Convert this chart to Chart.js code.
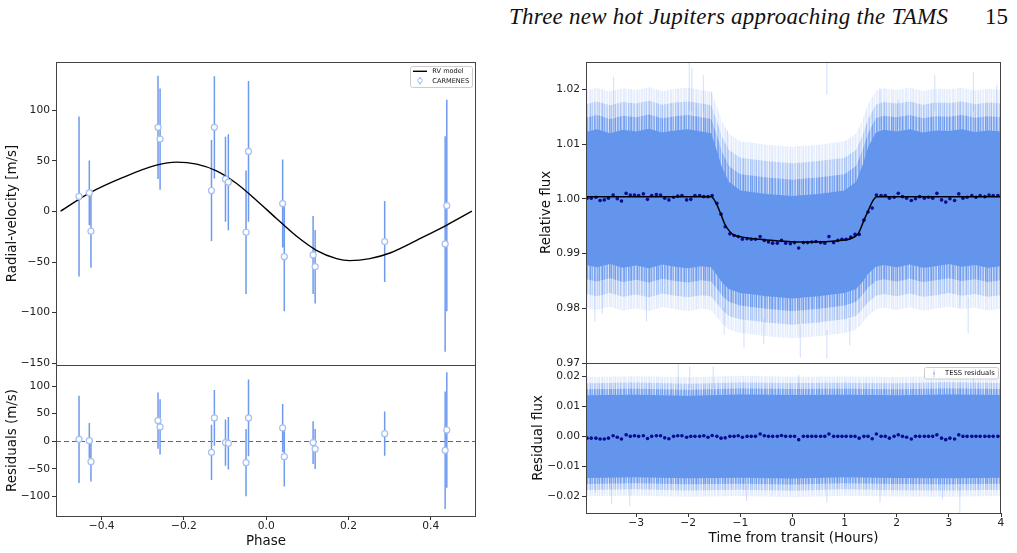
<!DOCTYPE html>
<html>
<head>
<meta charset="utf-8">
<script src="https://cdn.jsdelivr.net/npm/chart.js@4.4.1/dist/chart.umd.min.js"></script>
<style>
html,body{margin:0;padding:0;background:#fff;width:1017px;height:553px;overflow:hidden;}
canvas{position:absolute;left:0;top:0;}
.hdr{position:absolute;top:5px;font-family:"Liberation Serif","DejaVu Serif",serif;font-size:23px;line-height:23px;color:#111;white-space:nowrap;}
#title{left:509px;font-style:italic;letter-spacing:0.25px;}
#page{left:985px;}
</style>
</head>
<body>
<div class="hdr" id="title">Three new hot Jupiters approaching the TAMS</div>
<div class="hdr" id="page">15</div>
<canvas id="rvTop" width="1017" height="553"></canvas>
<canvas id="rvRes" width="1017" height="553"></canvas>
<canvas id="lcTop" width="1017" height="553"></canvas>
<canvas id="lcRes" width="1017" height="553"></canvas>
<script>
// ================= DATA =================
// --- CARMENES radial velocities (phase-folded) ---
const rvPhase    = [-0.455,-0.430,-0.426,-0.263,-0.258,-0.133,-0.126,-0.099,-0.092,-0.049,-0.043,0.040,0.044,0.114,0.119,0.288,0.435,0.439];
const rvValue    = [14.9,18.5,-19.5,83.2,71.6,20.8,83.2,32.0,29.0,-20.5,59.4,7.9,-44.6,-42.9,-54.5,-29.7,-32.0,5.9];
const rvError    = [79,32,36,51,50,50,50.5,42,47.5,61,69.5,43.5,54,38.6,36.3,40,106.5,104.5];
const rvResidual = [3.6,1.2,-36.9,37.5,26.0,-20.0,42.3,-2.4,-3.6,-38.7,42.3,24.2,-27.8,-2.4,-13.9,13.9,-16.3,20.5];
// --- RV model curve ---
const modelPhase = [-0.500,-0.429,-0.348,-0.267,-0.218,-0.169,-0.121,-0.072,-0.024,0.025,0.074,0.122,0.171,0.203,0.252,0.301,0.382,0.438,0.500];
const modelRV    = [0.3,18.4,33.7,45.8,48.8,46.8,40.2,27.7,11.2,-6.9,-24.5,-38.3,-46.5,-48.5,-46.5,-41.0,-25.1,-13.6,0.3];
// --- RV tick labels ---
const rvTicksTop = [-150,-100,-50,0,50,100];
const rvTicksRes = [-100,-50,0,50,100];
const phaseTicks = [-0.4,-0.2,0.0,0.2,0.4];

// --- TESS binned light curve (5-min bins) ---
const binTime = [-3.94,-3.86,-3.77,-3.69,-3.61,-3.53,-3.44,-3.36,-3.28,-3.19,-3.11,-3.03,-2.95,-2.86,-2.78,-2.70,-2.61,-2.53,-2.45,-2.37,-2.28,-2.20,-2.12,-2.03,-1.95,-1.87,-1.78,-1.70,-1.62,-1.54,-1.45,-1.37,-1.29,-1.20,-1.12,-1.04,-0.96,-0.87,-0.79,-0.71,-0.62,-0.54,-0.46,-0.38,-0.29,-0.21,-0.13,-0.04,0.04,0.12,0.21,0.29,0.37,0.45,0.54,0.62,0.70,0.79,0.87,0.95,1.03,1.12,1.20,1.28,1.37,1.45,1.53,1.61,1.70,1.78,1.86,1.95,2.03,2.11,2.19,2.28,2.36,2.44,2.53,2.61,2.69,2.77,2.86,2.94,3.02,3.11,3.19,3.27,3.35,3.44,3.52,3.60,3.69,3.77,3.85,3.94,4.01];
const binFlux = [1.0001,1.0001,1.0003,0.9997,0.9998,1.0001,1.0007,1.0000,0.9996,1.0010,1.0007,1.0007,1.0006,1.0009,0.9999,1.0006,1.0008,1.0007,1.0001,0.9998,1.0003,1.0005,1.0006,0.9998,0.9999,1.0006,1.0006,1.0004,1.0004,1.0006,0.9992,0.9972,0.9949,0.9936,0.9933,0.9931,0.9926,0.9927,0.9926,0.9926,0.9931,0.9924,0.9921,0.9919,0.9919,0.9924,0.9919,0.9918,0.9920,0.9910,0.9920,0.9920,0.9921,0.9922,0.9920,0.9919,0.9931,0.9920,0.9924,0.9926,0.9926,0.9930,0.9935,0.9935,0.9961,0.9976,0.9983,1.0007,1.0006,1.0006,1.0001,1.0003,1.0010,1.0004,1.0001,0.9997,1.0000,1.0004,1.0001,1.0003,1.0001,1.0010,0.9998,0.9994,1.0000,0.9997,1.0009,1.0001,1.0003,1.0006,1.0003,1.0006,1.0004,1.0007,1.0006,1.0006,1.0004];
const binResid = [-0.0006,-0.0006,-0.0006,-0.0009,-0.0009,-0.0006,0.0002,-0.0003,-0.0009,0.0005,0.0000,0.0002,0.0000,0.0002,-0.0007,0.0000,0.0002,0.0002,-0.0005,-0.0008,0.0000,0.0002,0.0002,-0.0003,0.0000,0.0000,0.0000,0.0002,-0.0003,0.0003,0.0000,-0.0006,-0.0005,0.0000,0.0000,0.0002,-0.0003,0.0000,0.0000,0.0000,0.0008,0.0002,0.0000,0.0000,0.0000,0.0003,0.0000,0.0000,0.0000,-0.0011,0.0000,0.0000,0.0000,0.0000,0.0000,0.0000,0.0008,0.0000,0.0000,0.0000,0.0000,0.0000,0.0000,-0.0006,0.0000,0.0000,-0.0008,0.0008,0.0000,0.0000,-0.0006,0.0000,0.0005,0.0000,-0.0003,-0.0009,0.0000,0.0000,0.0000,0.0000,0.0000,0.0005,-0.0006,-0.0011,-0.0006,-0.0009,0.0005,0.0000,0.0000,0.0000,0.0000,0.0000,0.0000,0.0000,0.0000,0.0000,0.0000];
// --- transit model ---
const transitTime = [-3.96,-1.555,-1.465,-1.382,-1.299,-1.209,-1.126,-0.954,-0.634,-0.251,0.069,0.433,0.817,1.137,1.265,1.360,1.456,1.552,1.616,4.0];
const transitFlux = [1.0004,1.0004,0.9992,0.9974,0.9954,0.9941,0.9934,0.9930,0.9926,0.9923,0.9921,0.9921,0.9923,0.9928,0.9937,0.9958,0.9979,0.9998,1.0004,1.0004];
// --- envelope of the unbinned TESS cloud, four density levels ---
const envTime = [-3.96,-3.75,-3.5,-3.25,-3.0,-2.75,-2.5,-2.25,-2.0,-1.75,-1.56,-1.45,-1.35,-1.22,-1.0,-0.75,-0.5,-0.25,0.0,0.25,0.5,0.75,1.0,1.22,1.35,1.45,1.6,1.75,2.0,2.25,2.5,2.75,3.0,3.25,3.5,3.75,4.0];
const l1Hi = [1.0122,1.0127,1.0120,1.0126,1.0123,1.0128,1.0121,1.0125,1.0127,1.0123,1.0120,1.0088,1.0057,1.0031,1.0015,1.0012,1.0009,1.0007,1.0005,1.0007,1.0009,1.0012,1.0015,1.0031,1.0063,1.0094,1.0121,1.0126,1.0123,1.0127,1.0121,1.0125,1.0124,1.0127,1.0122,1.0125,1.0123];
const l1Lo = [0.9879,0.9875,0.9881,0.9874,0.9878,0.9873,0.9880,0.9876,0.9873,0.9877,0.9875,0.9861,0.9847,0.9835,0.9828,0.9825,0.9822,0.9820,0.9818,0.9820,0.9822,0.9825,0.9828,0.9835,0.9849,0.9863,0.9876,0.9879,0.9875,0.9880,0.9874,0.9877,0.9881,0.9876,0.9879,0.9874,0.9877];
const l2Hi = [1.0148,1.0153,1.0146,1.0152,1.0149,1.0154,1.0147,1.0151,1.0153,1.0149,1.0146,1.0116,1.0085,1.0060,1.0045,1.0042,1.0039,1.0037,1.0035,1.0037,1.0039,1.0042,1.0045,1.0060,1.0090,1.0120,1.0147,1.0152,1.0149,1.0153,1.0147,1.0151,1.0150,1.0153,1.0148,1.0151,1.0149];
const l2Lo = [0.9853,0.9849,0.9855,0.9848,0.9852,0.9847,0.9854,0.9850,0.9847,0.9851,0.9849,0.9836,0.9823,0.9812,0.9805,0.9802,0.9799,0.9797,0.9795,0.9797,0.9799,0.9802,0.9805,0.9812,0.9825,0.9838,0.9850,0.9853,0.9849,0.9854,0.9848,0.9851,0.9855,0.9850,0.9853,0.9848,0.9851];
const l3Hi = [1.0173,1.0178,1.0171,1.0177,1.0174,1.0179,1.0172,1.0176,1.0178,1.0174,1.0171,1.0142,1.0113,1.0089,1.0075,1.0072,1.0069,1.0067,1.0065,1.0067,1.0069,1.0072,1.0075,1.0089,1.0117,1.0146,1.0172,1.0177,1.0174,1.0178,1.0172,1.0176,1.0175,1.0178,1.0173,1.0176,1.0174];
const l3Lo = [0.9826,0.9822,0.9828,0.9821,0.9825,0.9820,0.9827,0.9823,0.9820,0.9824,0.9822,0.9809,0.9797,0.9786,0.9780,0.9777,0.9774,0.9772,0.9770,0.9772,0.9774,0.9777,0.9780,0.9786,0.9799,0.9811,0.9823,0.9826,0.9822,0.9827,0.9821,0.9824,0.9828,0.9823,0.9826,0.9821,0.9824];
const l4Hi = [1.0198,1.0203,1.0196,1.0202,1.0199,1.0204,1.0197,1.0201,1.0203,1.0199,1.0196,1.0169,1.0141,1.0119,1.0105,1.0102,1.0099,1.0097,1.0095,1.0097,1.0099,1.0102,1.0105,1.0119,1.0146,1.0173,1.0197,1.0202,1.0199,1.0203,1.0197,1.0201,1.0200,1.0203,1.0198,1.0201,1.0199];
const l4Lo = [0.9801,0.9797,0.9803,0.9796,0.9800,0.9795,0.9802,0.9798,0.9795,0.9799,0.9797,0.9784,0.9772,0.9761,0.9755,0.9752,0.9749,0.9747,0.9745,0.9747,0.9749,0.9752,0.9755,0.9761,0.9774,0.9786,0.9798,0.9801,0.9797,0.9802,0.9796,0.9799,0.9803,0.9798,0.9801,0.9796,0.9799];
// outlying single points (their error bars) in the light-curve panel
const fluxSpikeTime = [-3.79,-3.65,-3.43,-2.80,-1.98,-1.93,-1.71,-1.55,-1.31,-1.25,-0.93,-0.55,0.15,0.66,0.66,1.10,1.68,2.03,2.73,3.21,3.37,3.47,3.92];
const fluxSpikeLo   = [0.9776,0.9790,1.0150,0.9776,1.0160,1.0160,1.0160,1.0130,0.9752,1.0060,0.9728,0.9735,0.9710,1.0190,0.9708,0.9732,1.0140,1.0130,1.0160,0.9801,0.9754,1.0160,1.0150];
const fluxSpikeHi   = [0.9860,0.9850,1.0223,0.9850,1.0251,1.0240,1.0226,1.0196,0.9800,1.0125,0.9780,0.9780,0.9770,1.0248,0.9760,0.9780,1.0202,1.0181,1.0226,0.9860,0.9820,1.0232,1.0208];
// --- residual cloud envelope, four density levels ---
const resEnvTime = [-3.96,-3.0,-2.0,-1.0,0.0,1.0,2.0,3.0,4.0];
const r1Hi = [0.0137,0.0139,0.0136,0.0140,0.0138,0.0139,0.0137,0.0140,0.0138];
const r1Lo = [-0.0139,-0.0137,-0.0140,-0.0138,-0.0141,-0.0137,-0.0139,-0.0140,-0.0138];
const r2Hi = [0.0157,0.0159,0.0156,0.0160,0.0158,0.0159,0.0157,0.0160,0.0158];
const r2Lo = [-0.0159,-0.0157,-0.0160,-0.0158,-0.0161,-0.0157,-0.0159,-0.0160,-0.0158];
const r3Hi = [0.0177,0.0180,0.0176,0.0180,0.0178,0.0179,0.0177,0.0181,0.0178];
const r3Lo = [-0.0179,-0.0177,-0.0181,-0.0178,-0.0182,-0.0177,-0.0180,-0.0181,-0.0178];
const r4Hi = [0.0198,0.0201,0.0197,0.0202,0.0199,0.0200,0.0198,0.0202,0.0199];
const r4Lo = [-0.0200,-0.0198,-0.0202,-0.0199,-0.0203,-0.0198,-0.0201,-0.0202,-0.0199];
const resSpikeTime = [-3.78,-3.47,-3.12,-2.19,-1.97,-1.52,-0.88,0.12,0.66,1.68,2.88,3.21,3.47];
const resSpikeLo   = [-0.0188,-0.0227,-0.0233,0.0160,0.0160,0.0160,-0.0216,0.0150,-0.0222,-0.0222,-0.0210,-0.0256,0.0160];
const resSpikeHi   = [-0.0140,-0.0160,-0.0160,0.0244,0.0233,0.0233,-0.0160,0.0205,-0.0160,-0.0160,-0.0150,-0.0170,0.0222];
// --- light-curve tick labels ---
const fluxTicks  = [0.97,0.98,0.99,1.00,1.01,1.02];
const rfluxTicks = [-0.02,-0.01,0.00,0.01,0.02];
const hourTicks  = [-3,-2,-1,0,1,2,3,4];

// ================= HELPERS =================
const FONT = '"DejaVu Sans", sans-serif';
const CORNFLOWER = '#6495ED';
const xy = (xs, ys) => xs.map((x, i) => ({x: x, y: ys[i]}));
const vbars = (xs, lo, hi) => {
  const d = [];
  xs.forEach((x, i) => { d.push({x: x, y: lo[i]}, {x: x, y: hi[i]}, {x: x, y: null}); });
  return d;
};
const fmt = (v, dec) => {
  let s = Number(v).toFixed(dec);
  if (/^-0(\.0+)?$/.test(s)) s = s.slice(1);
  return s.replace('-', '\u2212');
};
// streaky texture used for the sparse outer parts of the photometric cloud (styling only)
const streakAlpha = [0.9,0.35,0.7,0.5,1,0.25,0.8,0.6,0.4,0.95,0.55,0.3,0.75,0.85,0.45,0.65,0.2,0.9,0.5,0.7,1,0.35,0.6,0.8,0.3,0.55,0.95,0.45,0.7,0.25,0.85,0.6,0.4,0.75,0.5,0.9,0.3,0.65,1,0.45,0.8,0.35,0.55,0.7,0.2,0.95,0.6];
function streaks(base) {
  const c = document.createElement('canvas');
  c.width = streakAlpha.length; c.height = 1;
  const g = c.getContext('2d');
  streakAlpha.forEach((a, i) => { g.fillStyle = 'rgba(100,149,237,' + Math.min(1, a * base).toFixed(3) + ')'; g.fillRect(i, 0, 1, 1); });
  return g.createPattern(c, 'repeat');
}
function yAxis(o) {
  return {
    type: 'linear', position: 'left', min: o.min, max: o.max,
    afterBuildTicks: a => { a.ticks = o.ticks.map(v => ({value: v})); },
    afterFit: a => { a.width = 56; },
    grid: {display: true, drawOnChartArea: false, drawTicks: true, tickLength: 4, color: '#333', lineWidth: 1},
    border: {display: false},
    ticks: {autoSkip: false, padding: 2, color: '#222', font: {family: FONT, size: 10.7}, callback: v => fmt(v, o.dec)},
    title: {display: true, text: o.title, color: '#111', font: {family: FONT, size: 13.4}, padding: {top: o.tpad, bottom: 0}}
  };
}
function xAxis(o) {
  if (!o.show) return {type: 'linear', display: false, min: o.min, max: o.max};
  return {
    type: 'linear', position: 'bottom', min: o.min, max: o.max,
    afterBuildTicks: a => { a.ticks = o.ticks.map(v => ({value: v})); },
    afterFit: a => { a.height = o.height; },
    grid: {display: true, drawOnChartArea: false, drawTicks: true, tickLength: 4, color: '#333', lineWidth: 1},
    border: {display: false},
    ticks: {autoSkip: false, maxRotation: 0, padding: 0, color: '#222', font: {family: FONT, size: 10.7}, callback: v => fmt(v, o.dec)},
    title: {display: true, text: o.title, color: '#111', font: {family: FONT, size: 13.4}, padding: {top: 0, bottom: o.tpad}}
  };
}
const framePlugin = {
  id: 'frame',
  afterDatasetsDraw(chart) {
    const {ctx, chartArea: a} = chart;
    ctx.save();
    ctx.strokeStyle = '#444';
    ctx.lineWidth = 1;
    ctx.strokeRect(Math.round(a.left) + 0.5, Math.round(a.top) + 0.5, Math.round(a.right - a.left) - 1, Math.round(a.bottom - a.top));
    ctx.restore();
  }
};
function roundBox(ctx, x, y, w, h, r) {
  ctx.beginPath();
  ctx.moveTo(x + r, y); ctx.lineTo(x + w - r, y); ctx.arcTo(x + w, y, x + w, y + r, r);
  ctx.lineTo(x + w, y + h - r); ctx.arcTo(x + w, y + h, x + w - r, y + h, r);
  ctx.lineTo(x + r, y + h); ctx.arcTo(x, y + h, x, y + h - r, r);
  ctx.lineTo(x, y + r); ctx.arcTo(x, y, x + r, y, r);
  ctx.closePath();
}
const baseOpts = (padding, scales) => ({
  responsive: false, animation: false, devicePixelRatio: 1, events: [],
  layout: {padding: padding},
  plugins: {legend: {display: false}, tooltip: {enabled: false}},
  scales: scales
});
const band = (xs, hi, lo, color, ord) => [
  {data: xy(xs, hi), borderWidth: 0, pointRadius: 0, fill: '+1', backgroundColor: color, order: ord},
  {data: xy(xs, lo), borderWidth: 0, pointRadius: 0, fill: false, order: ord + 1}
];

// ================= RV TOP =================
new Chart(document.getElementById('rvTop'), {
  type: 'line',
  data: {datasets: [
    {label: 'CARMENES', data: xy(rvPhase, rvValue), showLine: false, pointRadius: 3, pointBackgroundColor: '#fff', pointBorderColor: '#a3bff3', pointBorderWidth: 1.2, order: 0},
    {label: 'RV model', data: xy(modelPhase, modelRV), borderColor: '#000', borderWidth: 1.4, pointRadius: 0, cubicInterpolationMode: 'monotone', fill: false, order: 1},
    {label: 'err', data: vbars(rvPhase, rvValue.map((v, i) => v - rvError[i]), rvValue.map((v, i) => v + rvError[i])), borderColor: '#6f9bef', borderWidth: 1.5, pointRadius: 0, spanGaps: false, fill: false, order: 2}
  ]},
  options: baseOpts({left: 0, top: 62, right: 541, bottom: 188}, {
    x: xAxis({show: false, min: -0.511, max: 0.510}),
    y: yAxis({min: -151.7, max: 147.8, ticks: rvTicksTop, dec: 0, title: 'Radial-velocity [m/s]', tpad: 4.7})
  }),
  plugins: [framePlugin, {
    id: 'rvLegend',
    afterDraw(chart) {
      const ctx = chart.ctx;
      ctx.save();
      roundBox(ctx, 410.5, 66.5, 62, 21, 2);
      ctx.fillStyle = 'rgba(255,255,255,0.85)'; ctx.fill();
      ctx.strokeStyle = '#cccccc'; ctx.lineWidth = 1; ctx.stroke();
      ctx.strokeStyle = '#000'; ctx.lineWidth = 1.4;
      ctx.beginPath(); ctx.moveTo(413, 71.3); ctx.lineTo(427, 71.3); ctx.stroke();
      ctx.strokeStyle = '#6f9bef'; ctx.lineWidth = 1;
      ctx.beginPath(); ctx.moveTo(420, 77); ctx.lineTo(420, 84.5); ctx.stroke();
      ctx.beginPath(); ctx.arc(420, 80.6, 2.2, 0, Math.PI * 2);
      ctx.fillStyle = '#fff'; ctx.fill(); ctx.strokeStyle = '#a3bff3'; ctx.stroke();
      ctx.fillStyle = '#111'; ctx.font = '6.6px ' + FONT; ctx.textBaseline = 'middle';
      ctx.fillText('RV model', 432.3, 71.5);
      ctx.fillText('CARMENES', 432.3, 80.8);
      ctx.restore();
    }
  }]
});

// ================= RV RESIDUALS =================
new Chart(document.getElementById('rvRes'), {
  type: 'line',
  data: {datasets: [
    {label: 'CARMENES', data: xy(rvPhase, rvResidual), showLine: false, pointRadius: 3, pointBackgroundColor: '#fff', pointBorderColor: '#a3bff3', pointBorderWidth: 1.2, order: 0},
    {label: 'err', data: vbars(rvPhase, rvResidual.map((v, i) => v - rvError[i]), rvResidual.map((v, i) => v + rvError[i])), borderColor: '#6f9bef', borderWidth: 1.5, pointRadius: 0, spanGaps: false, fill: false, order: 2}
  ]},
  options: baseOpts({left: 0, top: 365, right: 541, bottom: 0}, {
    x: xAxis({show: true, min: -0.511, max: 0.510, ticks: phaseTicks, dec: 1, title: 'Phase', height: 37, tpad: 3.3}),
    y: yAxis({min: -135.4, max: 138.3, ticks: rvTicksRes, dec: 0, title: 'Residuals (m/s)', tpad: 4.7})
  }),
  plugins: [framePlugin, {
    id: 'zeroLine',
    beforeDatasetsDraw(chart) {
      const {ctx, chartArea: a, scales} = chart;
      const y = Math.round(scales.y.getPixelForValue(0)) + 0.5;
      ctx.save();
      ctx.strokeStyle = '#666'; ctx.lineWidth = 1.2; ctx.setLineDash([5, 3]);
      ctx.beginPath(); ctx.moveTo(a.left, y); ctx.lineTo(a.right, y); ctx.stroke();
      ctx.restore();
    }
  }]
});

// ================= LIGHT CURVE =================
new Chart(document.getElementById('lcTop'), {
  type: 'line',
  data: {datasets: [
    {label: 'model', data: xy(transitTime, transitFlux), borderColor: '#000', borderWidth: 1.5, pointRadius: 0, cubicInterpolationMode: 'monotone', fill: false, order: 0},
    {label: 'binned', data: xy(binTime, binFlux), showLine: false, pointRadius: 1.8, pointBorderWidth: 0, pointBackgroundColor: '#0b0b8f', order: 1},
    {label: 'spikes', data: vbars(fluxSpikeTime, fluxSpikeLo, fluxSpikeHi), borderColor: 'rgba(100,149,237,0.3)', borderWidth: 1, pointRadius: 0, spanGaps: false, fill: false, order: 2},
    ...band(envTime, l1Hi, l1Lo, CORNFLOWER, 3),
    ...band(envTime, l2Hi, l2Lo, streaks(0.85), 5),
    ...band(envTime, l3Hi, l3Lo, streaks(0.45), 7),
    ...band(envTime, l4Hi, l4Lo, streaks(0.2), 9)
  ]},
  options: baseOpts({left: 530, top: 62, right: 16, bottom: 190}, {
    x: xAxis({show: false, min: -3.96, max: 4.0}),
    y: yAxis({min: 0.970, max: 1.025, ticks: fluxTicks, dec: 2, title: 'Relative flux', tpad: 8.6})
  }),
  plugins: [framePlugin]
});

new Chart(document.getElementById('lcRes'), {
  type: 'line',
  data: {datasets: [
    {label: 'binned', data: xy(binTime, binResid), showLine: false, pointRadius: 1.8, pointBorderWidth: 0, pointBackgroundColor: '#0b0b8f', order: 1},
    {label: 'TESS residuals', data: vbars(resSpikeTime, resSpikeLo, resSpikeHi), borderColor: 'rgba(100,149,237,0.3)', borderWidth: 1, pointRadius: 0, spanGaps: false, fill: false, order: 2},
    ...band(resEnvTime, r1Hi, r1Lo, CORNFLOWER, 3),
    ...band(resEnvTime, r2Hi, r2Lo, streaks(0.85), 5),
    ...band(resEnvTime, r3Hi, r3Lo, streaks(0.45), 7),
    ...band(resEnvTime, r4Hi, r4Lo, streaks(0.2), 9)
  ]},
  options: baseOpts({left: 530, top: 363, right: 16, bottom: 0}, {
    x: xAxis({show: true, min: -3.96, max: 4.0, ticks: hourTicks, dec: 0, title: 'Time from transit (Hours)', height: 40, tpad: 6}),
    y: yAxis({min: -0.0256, max: 0.0245, ticks: rfluxTicks, dec: 2, title: 'Residual flux', tpad: 0.3})
  }),
  plugins: [framePlugin, {
    id: 'tessLegend',
    afterDraw(chart) {
      const ctx = chart.ctx;
      ctx.save();
      roundBox(ctx, 924.5, 367.5, 74, 11.5, 2);
      ctx.fillStyle = 'rgba(255,255,255,0.85)'; ctx.fill();
      ctx.strokeStyle = '#cccccc'; ctx.lineWidth = 1; ctx.stroke();
      ctx.strokeStyle = 'rgba(100,149,237,0.45)';
      ctx.beginPath(); ctx.moveTo(934, 369.5); ctx.lineTo(934, 377.5); ctx.stroke();
      ctx.fillStyle = 'rgba(100,149,237,0.6)';
      ctx.beginPath(); ctx.arc(934, 373.4, 1, 0, Math.PI * 2); ctx.fill();
      ctx.fillStyle = '#111'; ctx.font = '6.8px ' + FONT; ctx.textBaseline = 'middle';
      ctx.fillText('TESS residuals', 945, 373.6);
      ctx.restore();
    }
  }]
});
</script>
</body>
</html>
